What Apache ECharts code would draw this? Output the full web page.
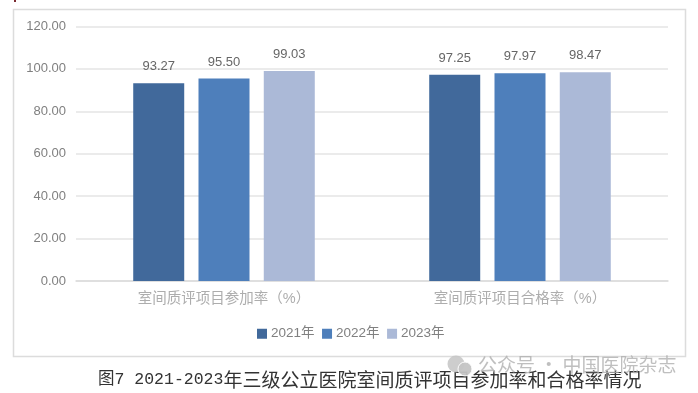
<!DOCTYPE html>
<html><head><meta charset="utf-8">
<style>html,body{margin:0;padding:0;background:#fff}#c{width:698px;height:393px}</style>
<script src="https://cdn.jsdelivr.net/npm/echarts@6/dist/echarts.min.js"></script>
</head><body><div id="c"></div>
<script>
const categories = ['室间质评项目参加率（%）','室间质评项目合格率（%）'];
const seriesNames = ['2021年','2022年','2023年'];
const values2021 = [93.27, 97.25];
const values2022 = [95.50, 97.97];
const values2023 = [99.03, 98.47];
const colors = ['#41699B','#4E7FBB','#ABB9D7'];
const captionHead = '图7 2021-2023';
const captionTail = '年三级公立医院室间质评项目参加率和合格率情况';
const watermark = '公众号 · 中国医院杂志';
const cjk = '"Liberation Sans","Noto Sans CJK SC",sans-serif';
const mk = (name, data, color) => ({
  name, type:'bar', data, barWidth:51, barGap:'28%',
  itemStyle:{color},
  label:{show:true, position:'top', distance:10, color:'#666', fontSize:13, fontFamily:cjk,
    formatter:p=>p.value.toFixed(2)}
});
const chart = echarts.init(document.getElementById('c'), null, {renderer:'canvas'});
chart.setOption({
  animation:false, backgroundColor:'#fff',
  title:{
    text:'{a|'+captionHead+'}{b|'+captionTail+'}', left:98, top:370, padding:0,
    textStyle:{fontWeight:'normal', rich:{
      a:{fontFamily:'"Liberation Mono","Noto Sans CJK SC",monospace', fontSize:16.5, color:'#333', fontWeight:'normal'},
      b:{fontFamily:'"Noto Sans CJK SC",sans-serif', fontSize:19, color:'#333', fontWeight:'normal'}
    }}
  },
  legend:{
    data:seriesNames, left:252, top:322, itemWidth:10, itemHeight:10, itemGap:7.5,
    icon:'rect', textStyle:{color:'#808080', fontSize:13.5, fontFamily:cjk, padding:[0,0,0,-1]}
  },
  grid:{left:76, right:30, top:26.5, bottom:112},
  xAxis:{
    type:'category', data:categories,
    axisLine:{lineStyle:{color:'#dcdcdc', width:1.5}}, axisTick:{show:false},
    axisLabel:{color:'#adadad', fontSize:14.5, margin:10.5, fontFamily:cjk}
  },
  yAxis:{
    type:'value', min:0, max:120, interval:20,
    axisLine:{show:false}, axisTick:{show:false},
    axisLabel:{color:'#808080', fontSize:13, margin:10, fontFamily:cjk, padding:[4,0,0,0], formatter:v=>v.toFixed(2)},
    splitLine:{lineStyle:{color:'#e4e4e4', width:1.5}}
  },
  series:[mk(seriesNames[0],values2021,colors[0]),mk(seriesNames[1],values2022,colors[1]),mk(seriesNames[2],values2023,colors[2])],
  graphic:[
    {type:'rect', z:-1, shape:{x:13.5,y:9.5,width:672,height:347}, style:{fill:'#fff',stroke:'#dcdcdc',lineWidth:1.5}},
    {type:'rect', shape:{x:14,y:0,width:2,height:2}, style:{fill:'#7a2a30'}},
    {type:'circle', z:20, shape:{cx:456,cy:364,r:8.5}, style:{fill:'#c4c4c4',opacity:.85}},
    {type:'circle', z:20, shape:{cx:465,cy:369,r:7}, style:{fill:'#c4c4c4',stroke:'#fff',lineWidth:1,opacity:.95}},
    {type:'text', z:20, style:{x:478,y:355,text:watermark,fill:'rgba(175,175,175,.8)',fontSize:19,fontFamily:'"Noto Sans CJK SC",sans-serif'}}
  ]
});
</script></body></html>
